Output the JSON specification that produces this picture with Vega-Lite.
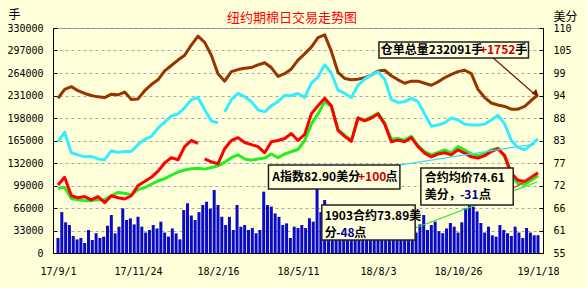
{
"$schema":"https://vega.github.io/schema/vega-lite/v6.json",
"width":490,"height":225,
"autosize":{"type":"none"},
"padding":{"left":53,"top":28,"right":44,"bottom":35},
"background":"#FFFFD9",
"config":{"view":{"stroke":"#8A8A8A","strokeWidth":1,"fill":"#FFFFD9"},"font":"Noto Sans CJK SC"},
"title":{"text":"纽约期棉日交易走势图","color":"#FF0000","fontSize":13,"font":"Noto Sans CJK SC","fontWeight":"normal","anchor":"middle","baseline":"bottom","offset":0,"dy":30,"dx":-6},
"datasets":{
"vol":[
{"d":"2017-09-01","v":22000},{"d":"2017-09-05","v":60000},{"d":"2017-09-09","v":45000},{"d":"2017-09-13","v":41000},{"d":"2017-09-17","v":25000},{"d":"2017-09-21","v":20000},{"d":"2017-09-25","v":22000},{"d":"2017-09-29","v":14700},
{"d":"2017-10-03","v":33700},{"d":"2017-10-07","v":19000},{"d":"2017-10-11","v":29000},{"d":"2017-10-15","v":22000},{"d":"2017-10-19","v":24000},{"d":"2017-10-23","v":40000},{"d":"2017-10-27","v":55700},{"d":"2017-10-31","v":28800},
{"d":"2017-11-04","v":38600},{"d":"2017-11-08","v":65500},{"d":"2017-11-12","v":48400},{"d":"2017-11-16","v":50800},{"d":"2017-11-20","v":42000},{"d":"2017-11-24","v":53200},{"d":"2017-11-28","v":38600},
{"d":"2017-12-02","v":30000},{"d":"2017-12-06","v":33700},{"d":"2017-12-10","v":41000},{"d":"2017-12-14","v":36000},{"d":"2017-12-18","v":46000},{"d":"2017-12-22","v":30000},{"d":"2017-12-26","v":24000},{"d":"2017-12-30","v":36000},
{"d":"2018-01-03","v":28800},{"d":"2018-01-07","v":20000},{"d":"2018-01-11","v":63000},{"d":"2018-01-15","v":72900},{"d":"2018-01-19","v":55000},{"d":"2018-01-23","v":48400},{"d":"2018-01-27","v":60000},{"d":"2018-01-31","v":70400},
{"d":"2018-02-04","v":75200},{"d":"2018-02-08","v":65000},{"d":"2018-02-12","v":92400},{"d":"2018-02-16","v":70400},{"d":"2018-02-20","v":53200},{"d":"2018-02-24","v":41000},{"d":"2018-02-28","v":53000},
{"d":"2018-03-04","v":33700},{"d":"2018-03-08","v":70400},{"d":"2018-03-12","v":38600},{"d":"2018-03-16","v":41000},{"d":"2018-03-20","v":33700},{"d":"2018-03-24","v":36700},{"d":"2018-03-28","v":29000},
{"d":"2018-04-01","v":33700},{"d":"2018-04-05","v":90000},{"d":"2018-04-09","v":70400},{"d":"2018-04-13","v":68000},{"d":"2018-04-17","v":58000},{"d":"2018-04-21","v":53000},{"d":"2018-04-25","v":41000},{"d":"2018-04-29","v":43500},
{"d":"2018-05-03","v":22000},{"d":"2018-05-07","v":38600},{"d":"2018-05-11","v":36700},{"d":"2018-05-15","v":41000},{"d":"2018-05-19","v":36700},{"d":"2018-05-23","v":50800},{"d":"2018-05-27","v":46000},{"d":"2018-05-31","v":95000},
{"d":"2018-06-04","v":60000},{"d":"2018-06-08","v":77700},{"d":"2018-06-12","v":55000},{"d":"2018-06-16","v":70400},{"d":"2018-06-20","v":50000},{"d":"2018-06-24","v":58000},{"d":"2018-06-28","v":45000},
{"d":"2018-07-02","v":52000},{"d":"2018-07-06","v":40000},{"d":"2018-07-10","v":48000},{"d":"2018-07-14","v":35000},{"d":"2018-07-18","v":42000},{"d":"2018-07-22","v":38000},{"d":"2018-07-26","v":50000},{"d":"2018-07-30","v":44000},
{"d":"2018-08-03","v":36000},{"d":"2018-08-07","v":42000},{"d":"2018-08-11","v":30000},{"d":"2018-08-15","v":45000},{"d":"2018-08-19","v":38000},{"d":"2018-08-23","v":52000},{"d":"2018-08-27","v":40000},{"d":"2018-08-31","v":35000},
{"d":"2018-09-04","v":48000},{"d":"2018-09-08","v":44000},{"d":"2018-09-12","v":30000},{"d":"2018-09-16","v":42000},{"d":"2018-09-20","v":55700},{"d":"2018-09-24","v":33700},{"d":"2018-09-28","v":41000},
{"d":"2018-10-02","v":46000},{"d":"2018-10-06","v":32000},{"d":"2018-10-10","v":29000},{"d":"2018-10-14","v":36000},{"d":"2018-10-18","v":44000},{"d":"2018-10-22","v":38600},{"d":"2018-10-26","v":30000},{"d":"2018-10-30","v":45000},
{"d":"2018-11-03","v":65500},{"d":"2018-11-07","v":75200},{"d":"2018-11-11","v":68000},{"d":"2018-11-15","v":61000},{"d":"2018-11-19","v":44000},{"d":"2018-11-23","v":30000},{"d":"2018-11-27","v":38600},
{"d":"2018-12-01","v":26000},{"d":"2018-12-05","v":24000},{"d":"2018-12-09","v":41000},{"d":"2018-12-13","v":33700},{"d":"2018-12-17","v":29000},{"d":"2018-12-21","v":25000},{"d":"2018-12-25","v":38600},{"d":"2018-12-29","v":30000},
{"d":"2019-01-02","v":22000},{"d":"2019-01-06","v":36700},{"d":"2019-01-10","v":30000},{"d":"2019-01-14","v":26000},{"d":"2019-01-18","v":26000}
],
"hold":[
{"d":"2017-09-01","v":227000},{"d":"2017-09-08","v":240000},{"d":"2017-09-15","v":244000},{"d":"2017-09-22","v":238000},{"d":"2017-09-29","v":234000},{"d":"2017-10-06","v":231000},{"d":"2017-10-13","v":229000},{"d":"2017-10-20","v":228000},{"d":"2017-10-27","v":233000},{"d":"2017-11-03","v":232000},{"d":"2017-11-10","v":236000},{"d":"2017-11-17","v":225000},{"d":"2017-11-24","v":226000},{"d":"2017-12-01","v":238000},{"d":"2017-12-08","v":247000},{"d":"2017-12-15","v":254000},{"d":"2017-12-22","v":267000},{"d":"2017-12-29","v":275000},{"d":"2018-01-05","v":283000},{"d":"2018-01-12","v":290000},{"d":"2018-01-19","v":305000},{"d":"2018-01-26","v":318000},{"d":"2018-02-02","v":309000},{"d":"2018-02-09","v":290000},{"d":"2018-02-16","v":263000},{"d":"2018-02-23","v":252000},{"d":"2018-03-02","v":266000},{"d":"2018-03-09","v":269000},{"d":"2018-03-16","v":271000},{"d":"2018-03-23","v":272000},{"d":"2018-03-30","v":276000},{"d":"2018-04-06","v":279000},{"d":"2018-04-13","v":272000},{"d":"2018-04-20","v":259000},{"d":"2018-04-27","v":263000},{"d":"2018-05-04","v":270000},{"d":"2018-05-11","v":283000},{"d":"2018-05-18","v":292000},{"d":"2018-05-25","v":302000},{"d":"2018-06-01","v":316000},{"d":"2018-06-08","v":320000},{"d":"2018-06-15","v":296000},{"d":"2018-06-22","v":265000},{"d":"2018-06-29","v":256000},{"d":"2018-07-06","v":254000},{"d":"2018-07-13","v":255000},{"d":"2018-07-20","v":257000},{"d":"2018-07-27","v":261000},{"d":"2018-08-03","v":267000},{"d":"2018-08-10","v":268000},{"d":"2018-08-17","v":260000},{"d":"2018-08-24","v":254000},{"d":"2018-08-31","v":249000},{"d":"2018-09-07","v":252000},{"d":"2018-09-14","v":252000},{"d":"2018-09-21","v":249000},{"d":"2018-09-28","v":246000},{"d":"2018-10-05","v":251000},{"d":"2018-10-12","v":257000},{"d":"2018-10-19","v":262000},{"d":"2018-10-26","v":266000},{"d":"2018-11-02","v":268000},{"d":"2018-11-09","v":263000},{"d":"2018-11-16","v":240000},{"d":"2018-11-23","v":228000},{"d":"2018-11-30","v":220000},{"d":"2018-12-07","v":217000},{"d":"2018-12-14","v":215000},{"d":"2018-12-21","v":211000},{"d":"2018-12-28","v":211000},{"d":"2019-01-04","v":215000},{"d":"2019-01-11","v":224000},{"d":"2019-01-18","v":232091}
],
"aidx":[
{"d":"2017-09-01","v":82.2},{"d":"2017-09-08","v":84.5},{"d":"2017-09-15","v":79.5},{"d":"2017-09-22","v":79.0},{"d":"2017-09-29","v":78.5},{"d":"2017-10-06","v":78.6},{"d":"2017-10-13","v":78.0},{"d":"2017-10-20","v":77.8},{"d":"2017-10-27","v":80.0},{"d":"2017-11-03","v":79.6},{"d":"2017-11-10","v":79.8},{"d":"2017-11-17","v":79.8},{"d":"2017-11-24","v":81.5},{"d":"2017-12-01","v":82.8},{"d":"2017-12-08","v":83.5},{"d":"2017-12-15","v":85.5},{"d":"2017-12-22","v":87.0},{"d":"2017-12-29","v":88.5},{"d":"2018-01-05","v":89.0},{"d":"2018-01-12","v":90.5},{"d":"2018-01-19","v":92.5},{"d":"2018-01-26","v":93.0},{"d":"2018-02-02","v":90.0},{"d":"2018-02-09","v":87.3},{"d":"2018-02-16","v":86.8},{"d":"2018-02-19","v":null},{"d":"2018-02-23","v":89.5},{"d":"2018-03-02","v":92.5},{"d":"2018-03-09","v":94.0},{"d":"2018-03-16","v":93.2},{"d":"2018-03-23","v":92.0},{"d":"2018-03-30","v":90.0},{"d":"2018-04-06","v":89.5},{"d":"2018-04-13","v":91.0},{"d":"2018-04-20","v":92.0},{"d":"2018-04-27","v":93.5},{"d":"2018-05-04","v":93.5},{"d":"2018-05-11","v":94.0},{"d":"2018-05-18","v":93.0},{"d":"2018-05-25","v":96.5},{"d":"2018-06-01","v":98.0},{"d":"2018-06-08","v":101.0},{"d":"2018-06-15","v":99.0},{"d":"2018-06-22","v":94.8},{"d":"2018-06-29","v":94.0},{"d":"2018-07-06","v":93.0},{"d":"2018-07-13","v":96.0},{"d":"2018-07-20","v":97.5},{"d":"2018-07-27","v":98.5},{"d":"2018-08-03","v":99.3},{"d":"2018-08-10","v":97.5},{"d":"2018-08-17","v":92.5},{"d":"2018-08-24","v":91.8},{"d":"2018-08-31","v":92.0},{"d":"2018-09-07","v":92.8},{"d":"2018-09-14","v":92.0},{"d":"2018-09-21","v":89.0},{"d":"2018-09-28","v":86.0},{"d":"2018-10-05","v":86.3},{"d":"2018-10-12","v":86.8},{"d":"2018-10-19","v":88.0},{"d":"2018-10-26","v":87.5},{"d":"2018-11-02","v":86.5},{"d":"2018-11-09","v":86.3},{"d":"2018-11-16","v":86.3},{"d":"2018-11-23","v":86.5},{"d":"2018-11-30","v":87.5},{"d":"2018-12-07","v":88.7},{"d":"2018-12-14","v":86.5},{"d":"2018-12-21","v":82.5},{"d":"2018-12-28","v":80.8},{"d":"2019-01-04","v":80.2},{"d":"2019-01-11","v":81.5},{"d":"2019-01-18","v":82.9}
],
"c1903":[
{"d":"2017-09-01","v":70.8},{"d":"2017-09-08","v":71.0},{"d":"2017-09-15","v":68.3},{"d":"2017-09-22","v":68.0},{"d":"2017-09-29","v":67.8},{"d":"2017-10-06","v":67.8},{"d":"2017-10-13","v":68.0},{"d":"2017-10-20","v":68.0},{"d":"2017-10-27","v":69.0},{"d":"2017-11-03","v":69.8},{"d":"2017-11-10","v":69.6},{"d":"2017-11-17","v":69.2},{"d":"2017-11-24","v":70.5},{"d":"2017-12-01","v":71.0},{"d":"2017-12-08","v":71.8},{"d":"2017-12-15","v":72.6},{"d":"2017-12-22","v":73.2},{"d":"2017-12-29","v":74.0},{"d":"2018-01-05","v":74.8},{"d":"2018-01-12","v":75.3},{"d":"2018-01-19","v":75.6},{"d":"2018-01-26","v":75.7},{"d":"2018-02-02","v":75.5},{"d":"2018-02-09","v":75.9},{"d":"2018-02-16","v":76.3},{"d":"2018-02-23","v":77.2},{"d":"2018-03-02","v":78.3},{"d":"2018-03-09","v":79.0},{"d":"2018-03-16","v":78.0},{"d":"2018-03-23","v":77.7},{"d":"2018-03-30","v":78.0},{"d":"2018-04-06","v":78.2},{"d":"2018-04-13","v":79.2},{"d":"2018-04-20","v":78.3},{"d":"2018-04-27","v":79.2},{"d":"2018-05-04","v":79.8},{"d":"2018-05-11","v":80.3},{"d":"2018-05-18","v":82.5},{"d":"2018-05-25","v":86.5},{"d":"2018-06-01","v":89.0},{"d":"2018-06-08","v":92.0},{"d":"2018-06-15","v":90.8},{"d":"2018-06-22","v":85.2},{"d":"2018-06-29","v":83.8},{"d":"2018-07-06","v":82.5},{"d":"2018-07-13","v":88.0},{"d":"2018-07-20","v":87.5},{"d":"2018-07-27","v":88.3},{"d":"2018-08-03","v":89.2},{"d":"2018-08-10","v":86.8},{"d":"2018-08-17","v":82.8},{"d":"2018-08-24","v":83.0},{"d":"2018-08-31","v":82.6},{"d":"2018-09-07","v":83.5},{"d":"2018-09-14","v":81.3},{"d":"2018-09-21","v":79.8},{"d":"2018-09-28","v":79.0},{"d":"2018-10-05","v":79.6},{"d":"2018-10-12","v":80.2},{"d":"2018-10-19","v":79.5},{"d":"2018-10-26","v":81.0},{"d":"2018-11-02","v":80.2},{"d":"2018-11-09","v":79.2},{"d":"2018-11-16","v":78.8},{"d":"2018-11-23","v":79.3},{"d":"2018-11-30","v":80.2},{"d":"2018-12-07","v":80.6},{"d":"2018-12-14","v":78.5},{"d":"2018-12-21","v":73.8},{"d":"2018-12-28","v":72.0},{"d":"2019-01-04","v":71.8},{"d":"2019-01-11","v":72.8},{"d":"2019-01-18","v":73.89}
],
"avg":[
{"d":"2017-09-01","v":71.6},{"d":"2017-09-08","v":73.5},{"d":"2017-09-15","v":69.0},{"d":"2017-09-22","v":68.5},{"d":"2017-09-29","v":68.8},{"d":"2017-10-06","v":68.0},{"d":"2017-10-13","v":68.8},{"d":"2017-10-20","v":67.3},{"d":"2017-10-27","v":69.0},{"d":"2017-11-03","v":68.5},{"d":"2017-11-10","v":68.2},{"d":"2017-11-17","v":69.0},{"d":"2017-11-24","v":71.5},{"d":"2017-12-01","v":72.5},{"d":"2017-12-08","v":73.5},{"d":"2017-12-15","v":75.0},{"d":"2017-12-22","v":77.0},{"d":"2017-12-29","v":78.3},{"d":"2018-01-05","v":77.8},{"d":"2018-01-12","v":81.0},{"d":"2018-01-19","v":82.5},{"d":"2018-01-26","v":81.8},{"d":"2018-01-28","v":null},{"d":"2018-02-02","v":78.0},{"d":"2018-02-09","v":77.3},{"d":"2018-02-16","v":76.8},{"d":"2018-02-23","v":80.5},{"d":"2018-03-02","v":82.5},{"d":"2018-03-09","v":83.2},{"d":"2018-03-16","v":82.0},{"d":"2018-03-23","v":81.5},{"d":"2018-03-30","v":81.0},{"d":"2018-04-06","v":79.5},{"d":"2018-04-13","v":82.2},{"d":"2018-04-20","v":82.5},{"d":"2018-04-27","v":83.0},{"d":"2018-05-04","v":84.2},{"d":"2018-05-11","v":82.5},{"d":"2018-05-18","v":84.0},{"d":"2018-05-25","v":89.0},{"d":"2018-06-01","v":91.0},{"d":"2018-06-08","v":92.8},{"d":"2018-06-15","v":91.0},{"d":"2018-06-22","v":85.0},{"d":"2018-06-29","v":83.5},{"d":"2018-07-06","v":82.3},{"d":"2018-07-13","v":88.0},{"d":"2018-07-20","v":87.3},{"d":"2018-07-27","v":88.0},{"d":"2018-08-03","v":89.0},{"d":"2018-08-10","v":86.5},{"d":"2018-08-17","v":82.2},{"d":"2018-08-24","v":82.6},{"d":"2018-08-31","v":82.2},{"d":"2018-09-07","v":83.2},{"d":"2018-09-14","v":81.0},{"d":"2018-09-21","v":79.4},{"d":"2018-09-28","v":78.5},{"d":"2018-10-05","v":79.2},{"d":"2018-10-12","v":79.5},{"d":"2018-10-19","v":79.0},{"d":"2018-10-26","v":80.2},{"d":"2018-11-02","v":79.4},{"d":"2018-11-09","v":78.5},{"d":"2018-11-16","v":78.2},{"d":"2018-11-23","v":78.8},{"d":"2018-11-30","v":79.8},{"d":"2018-12-07","v":80.5},{"d":"2018-12-14","v":78.8},{"d":"2018-12-21","v":74.5},{"d":"2018-12-28","v":72.8},{"d":"2019-01-04","v":72.5},{"d":"2019-01-11","v":73.5},{"d":"2019-01-18","v":74.61}
],
"links":[
{"d":"2018-12-02","v":102.67,"g":"b"},{"d":"2019-01-17","v":93.3,"g":"b"},
{"d":"2018-08-25","v":76.5,"g":"c"},{"d":"2019-01-15","v":81.64,"g":"c"},
{"d":"2018-09-11","v":61.1,"g":"g"},{"d":"2019-01-17","v":72.36,"g":"g"},
{"d":"2018-12-23","v":70.89,"g":"r"},{"d":"2019-01-15","v":73.82,"g":"r"}
],
"heads":[{"d":"2019-01-16","v":94.0}],
"boxes":[
{"d":"2018-08-04","d2":"2019-01-08","v":102.67,"v2":106.58},
{"d":"2018-04-10","d2":"2018-08-26","v":70.64,"v2":76.51},
{"d":"2018-06-05","d2":"2018-09-11","v":58.18,"v2":66.73},
{"d":"2018-09-17","d2":"2018-12-23","v":66.73,"v2":75.78}
],
"notes":[
{"d":"2018-08-06","v":104.6,"t":"仓单总量232091手","k":"n"},
{"d":"2018-11-18","v":104.6,"t":"+1752","k":"up"},
{"d":"2018-12-25","v":104.6,"t":"手","k":"n"},
{"d":"2018-04-14","v":73.6,"t":"A指数82.90美分","k":"n"},
{"d":"2018-07-13","v":73.6,"t":"+100","k":"up"},
{"d":"2018-08-11","v":73.6,"t":"点","k":"n"},
{"d":"2018-06-08","v":64.0,"t":"1903合约73.89美","k":"n"},
{"d":"2018-06-08","v":59.9,"t":"分","k":"n"},
{"d":"2018-06-20","v":59.9,"t":"-48","k":"down"},
{"d":"2018-07-09","v":59.9,"t":"点","k":"n"},
{"d":"2018-09-21","v":73.4,"t":"合约均价74.61","k":"n"},
{"d":"2018-09-21","v":69.3,"t":"美分，","k":"n"},
{"d":"2018-10-28","v":69.3,"t":"-31","k":"down"},
{"d":"2018-11-17","v":69.3,"t":"点","k":"n"}
]
},
"encoding":{
"x":{"field":"d","type":"temporal",
"scale":{"type":"utc","domain":[{"year":2017,"month":9,"date":1,"utc":true},{"year":2019,"month":1,"date":18,"utc":true}],"nice":false},
"axis":{"title":null,"values":[{"year":2017,"month":9,"date":1,"utc":true},{"year":2017,"month":11,"date":24,"utc":true},{"year":2018,"month":2,"date":16,"utc":true},{"year":2018,"month":5,"date":11,"utc":true},{"year":2018,"month":8,"date":3,"utc":true},{"year":2018,"month":10,"date":26,"utc":true},{"year":2019,"month":1,"date":18,"utc":true}],
"format":"%y/%-m/%-d","labelFont":"DejaVu Sans Mono","labelFontSize":10,"labelColor":"#000000","labelFlush":false,"labelOverlap":false,"ticks":false,"labelPadding":13,"domainColor":"#000000","domainWidth":1,"grid":false}}
},
"layer":[
{
"encoding":{"y":{"field":"v","type":"quantitative","scale":{"domain":[0,330000],"nice":false,"zero":false},
"axis":{"orient":"left","title":"手","titleAngle":0,"titleX":-45,"titleY":-14,"titleAlign":"left","titleBaseline":"middle","titleFont":"Noto Sans CJK SC","titleFontSize":12,"titleFontWeight":"normal","titleColor":"#000000",
"values":[0,33000,66000,99000,132000,165000,198000,231000,264000,297000,330000],"format":"d","labelFont":"DejaVu Sans Mono","labelFontSize":10,"labelColor":"#000000","labelPadding":14,"tickSize":-4,"tickColor":"#000000","domainColor":"#000000","grid":true,"gridColor":"#A8A8A8","gridDash":[3,3]}}},
"layer":[
{"data":{"name":"vol"},"mark":{"type":"bar","color":"#0A0ACC","size":3}},
{"data":{"name":"hold"},"mark":{"type":"line","color":"#993300","strokeWidth":3,"strokeJoin":"round"}}
]
},
{
"encoding":{"y":{"field":"v","type":"quantitative","scale":{"domain":[55,110],"nice":false,"zero":false},
"axis":{"orient":"right","title":"美分","titleAngle":0,"titleX":10,"titleY":-12,"titleAlign":"left","titleBaseline":"middle","titleFont":"Noto Sans CJK SC","titleFontSize":12,"titleFontWeight":"normal","titleColor":"#000000",
"values":[55,60.5,66,71.5,77,82.5,88,93.5,99,104.5,110],"format":".0f","labelFont":"DejaVu Sans Mono","labelFontSize":10,"labelColor":"#000000","labelPadding":14,"tickSize":-4,"tickColor":"#000000","domainColor":"#000000","grid":false}}},
"layer":[
{"data":{"name":"aidx"},"mark":{"type":"line","color":"#33EEFF","strokeWidth":3,"strokeJoin":"round"}},
{"data":{"name":"c1903"},"mark":{"type":"line","color":"#22EE22","strokeWidth":3,"strokeJoin":"round"}},
{"data":{"name":"avg"},"mark":{"type":"line","color":"#FF0000","strokeWidth":3,"strokeJoin":"round"}},
{"data":{"name":"links"},"mark":{"type":"line","strokeWidth":1.2},"encoding":{"detail":{"field":"g"},"color":{"field":"g","type":"nominal","scale":{"domain":["b","c","g","r"],"range":["#7A1A00","#33DDFF","#33DD33","#FF2020"]},"legend":null}}},
{"data":{"name":"heads"},"mark":{"type":"point","shape":"triangle-right","angle":41,"filled":true,"size":45,"color":"#7A1A00","opacity":1}},
{"data":{"name":"boxes"},"mark":{"type":"rect","fill":"#FFFFDD","stroke":"#222222","strokeWidth":1.5},"encoding":{"x2":{"field":"d2"},"y2":{"field":"v2"}}},
{"data":{"name":"notes"},"mark":{"type":"text","align":"left","baseline":"middle","font":"Noto Sans CJK SC","fontWeight":"bold","fontSize":12},"encoding":{"text":{"field":"t"},"color":{"field":"k","type":"nominal","scale":{"domain":["n","up","down"],"range":["#000000","#CC0000","#000099"]},"legend":null}}}
],
"resolve":{"scale":{"color":"independent"}}
}
],
"resolve":{"scale":{"y":"independent"}}
}
